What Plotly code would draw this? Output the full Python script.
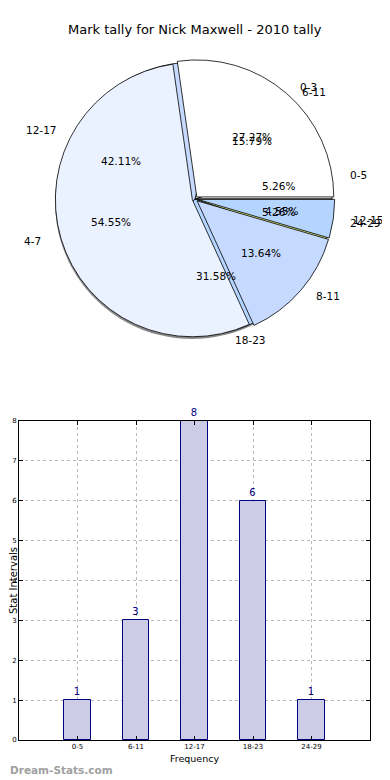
import math
import plotly.graph_objects as go

# ---------------- data ----------------
title_text = "Mark tally for Nick Maxwell - 2010 tally"
pie_a_labels = ["0-5", "6-11", "12-17", "18-23", "24-29"]
pie_a_values = [1, 3, 8, 6, 1]
pie_b_labels = ["0-3", "4-7", "8-11", "12-15"]
pie_b_values = [6, 12, 3, 1]
bar_categories = ["0-5", "6-11", "12-17", "18-23", "24-29"]
bar_values = [1, 3, 8, 6, 1]
y_ticks = [0, 1, 2, 3, 4, 5, 6, 7, 8]

slice_colors = ["#ffffff", "#ebf2ff", "#c6daff", "#b4d5ff", "#d6e87a"]
FONT = "DejaVu Sans"

OX, OY = 8, 8          # page body margin offset
W, H = 390 - OX, 780 - OY
PL, PR = 19, 370       # plot area left/right in page pixels
ML = PL - OX
PW = PR - PL
MR = W - ML - PW


def px_x(x):
    return (x - OX - ML) / PW


def px_y(y):
    return 1 - (y - OY) / H


def dom(cx, cy, half, dx=0, dy=0):
    return dict(x=[px_x(cx - half + dx), px_x(cx + half + dx)],
                y=[px_y(cy + half + dy), px_y(cy - half + dy)])


def start_rot(values):
    # plotly counterclockwise pies end their first slice at `rotation`;
    # shift so the first slice starts at 3 o'clock like matplotlib
    return 90 - 360.0 * values[0] / sum(values)


def mid_angles(values):
    tot = float(sum(values))
    out, acc = [], 0.0
    for v in values:
        out.append(math.radians(360.0 * (acc + v / 2.0) / tot))
        acc += v
    return out


CX, CY, R = 195, 199, 137
RX_TXT, RY_TXT = 141, 132     # text placement radii (original pie is slightly oval)
PULL = 0.02
TXT_RANGE = 1.2

fig = go.Figure()

common = dict(sort=False, direction="counterclockwise",
              hoverinfo="label+percent", showlegend=False, textinfo="none")

# shadow
fig.add_trace(go.Pie(labels=pie_a_labels, values=pie_a_values,
                     rotation=start_rot(pie_a_values),
                     domain=dom(CX, CY, R, dx=-3, dy=3),
                     marker=dict(colors=["#8a8a8a"] * 5, line=dict(width=0)), **common))
# bottom pie (5 categories)
fig.add_trace(go.Pie(labels=pie_a_labels, values=pie_a_values,
                     rotation=start_rot(pie_a_values),
                     domain=dom(CX, CY, R),
                     marker=dict(colors=slice_colors, line=dict(color="black", width=0.8)),
                     **common))
# top pie (4 categories), exploded
fig.add_trace(go.Pie(labels=pie_b_labels, values=pie_b_values,
                     rotation=start_rot(pie_b_values),
                     domain=dom(CX, CY, R * (1 + PULL)), pull=[PULL] * 4,
                     marker=dict(colors=slice_colors[:4], line=dict(color="black", width=0.8)),
                     **common))

# pie texts (matplotlib style: pct at 0.6 r, labels at 1.1 r), placed on a hidden
# axis pair that spans the pie so they sit above the wedges
annotations = []
for labels, values, explode in [(pie_a_labels, pie_a_values, 0.0),
                                (pie_b_labels, pie_b_values, PULL)]:
    tot = float(sum(values))
    for a, v, lab in zip(mid_angles(values), values, labels):
        ox, oy = explode * math.cos(a), explode * math.sin(a)
        annotations.append(dict(
            x=ox + 0.6 * math.cos(a), y=oy + 0.6 * math.sin(a), xref="x2", yref="y2",
            text="%.2f%%" % (100.0 * v / tot), showarrow=False,
            xanchor="center", yanchor="middle",
            font=dict(family=FONT, size=10.5, color="black")))
        annotations.append(dict(
            x=ox + 1.1 * math.cos(a), y=oy + 1.1 * math.sin(a), xref="x2", yref="y2",
            text=lab, showarrow=False,
            xanchor="left" if math.cos(a) > 0 else "right", yanchor="middle",
            font=dict(family=FONT, size=10.5, color="black")))

# bar chart
fig.add_trace(go.Bar(x=bar_categories, y=bar_values, width=0.45,
                     marker=dict(color="#cccce6", line=dict(color="#000080", width=1)),
                     text=bar_values, textposition="outside", cliponaxis=False,
                     textfont=dict(family=FONT, size=10, color="#000080"),
                     showlegend=False))
# invisible anchor for the pie-text axes
fig.add_trace(go.Scatter(x=[-TXT_RANGE, TXT_RANGE], y=[-TXT_RANGE, TXT_RANGE], mode="none",
                         xaxis="x2", yaxis="y2", hoverinfo="skip", showlegend=False))

tdom = dict(x=[px_x(CX - RX_TXT * TXT_RANGE), px_x(CX + RX_TXT * TXT_RANGE)],
            y=[px_y(CY + RY_TXT * TXT_RANGE), px_y(CY - RY_TXT * TXT_RANGE)])
hidden = dict(visible=False, showgrid=False, zeroline=False, fixedrange=True)

annotations += [
    dict(text=title_text, x=px_x(195), y=px_y(30), xref="paper", yref="paper",
         showarrow=False, font=dict(size=13, family=FONT, color="black"),
         xanchor="center", yanchor="middle"),
    dict(text="<b>Dream-Stats.com</b>", x=px_x(OX), y=px_y(770), xref="paper", yref="paper",
         showarrow=False, font=dict(size=10.5, family=FONT, color="#a0a0a0"),
         xanchor="left", yanchor="middle"),
]

fig.update_layout(
    width=W, height=H,
    margin=dict(l=ML, r=MR, t=0, b=0, autoexpand=False),
    paper_bgcolor="white", plot_bgcolor="rgba(0,0,0,0)",
    font=dict(family=FONT, color="black"),
    bargap=0,
    xaxis=dict(domain=[0, 1], range=[-1, 5], showline=True, linecolor="black", linewidth=1,
               mirror="ticks", ticks="inside", ticklen=4, tickcolor="black",
               showgrid=True, gridcolor="#b8b8b8", griddash="dot", gridwidth=1,
               tickfont=dict(size=7), automargin=False,
               title=dict(text="Frequency", font=dict(size=9.5), standoff=4),
               zeroline=False),
    yaxis=dict(domain=[px_y(740), px_y(421)], range=[0, 8], tickvals=y_ticks,
               showline=True, linecolor="black", linewidth=1, mirror="ticks",
               ticks="inside", ticklen=4, tickcolor="black",
               showgrid=True, gridcolor="#b8b8b8", griddash="dot", gridwidth=1,
               tickfont=dict(size=7), automargin=False,
               title=dict(text="Stat Intervals", font=dict(size=10), standoff=0),
               zeroline=False),
    xaxis2=dict(domain=tdom["x"], range=[-TXT_RANGE, TXT_RANGE], anchor="y2", **hidden),
    yaxis2=dict(domain=tdom["y"], range=[-TXT_RANGE, TXT_RANGE], anchor="x2", **hidden),
    annotations=annotations,
)

fig.write_html("out.html")
